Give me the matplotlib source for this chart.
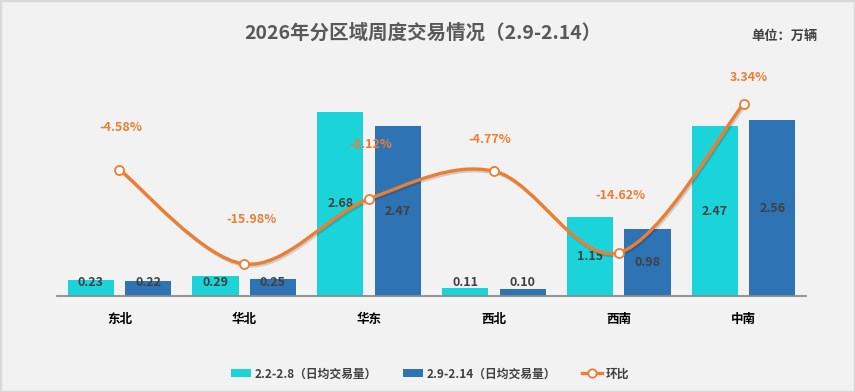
import numpy as np
import matplotlib
matplotlib.use("Agg")
import matplotlib.pyplot as plt
from matplotlib.path import Path
from matplotlib.patches import PathPatch, Rectangle, Patch
from matplotlib.lines import Line2D
import matplotlib.patheffects as pe

plt.rcParams['font.family'] = ['Noto Sans CJK SC', 'DejaVu Sans']

# ---------------- data ----------------
categories = ["东北", "华北", "华东", "西北", "西南", "中南"]
prev_week = [0.23, 0.29, 2.68, 0.11, 1.15, 2.47]     # 2.2-2.8 日均交易量
this_week = [0.22, 0.25, 2.47, 0.10, 0.98, 2.56]     # 2.9-2.14 日均交易量
mom_pct = [-4.58, -15.98, -8.12, -4.77, -14.62, 3.34]  # 环比 (%)
series_names = ["2.2-2.8（日均交易量）", "2.9-2.14（日均交易量）", "环比"]
title = "2026年分区域周度交易情况（2.9-2.14）"
unit = "单位：万辆"

# label offsets for percentage labels (points: dx, dy)
pct_offsets = [(1, 30), (5, 32), (1, 39), (-3, 23), (1, 41), (4, 19)]

# ---------------- style ----------------
C_PREV = "#1AD4D9"
C_THIS = "#2E73B4"
C_LINE = "#ED7D31"
C_TXT = "#404040"
BG = "#F2F2F2"

W, H = 855, 392
fig = plt.figure(figsize=(W / 100, H / 100), dpi=100, facecolor=BG)
fig.patches.append(Rectangle((0, 0), 1, 1, transform=fig.transFigure,
                             fill=False, edgecolor="#D9D9D9", lw=2.5))

ax_l, ax_r, ax_b, ax_t = 57, 806, 296, 60
ax = fig.add_axes([ax_l / W, 1 - ax_b / H, (ax_r - ax_l) / W, (ax_b - ax_t) / H])
ax.set_facecolor("none")

x = np.arange(len(categories))
bw = 0.37
off = 0.23
b1 = ax.bar(x - off, prev_week, bw, color=C_PREV, zorder=2)
b2 = ax.bar(x + off, this_week, bw, color=C_THIS, zorder=2)

ax.set_xlim(-0.5, len(categories) - 0.5)
px_per_unit = 68.75
ax.set_ylim(0, (ax_b - ax_t) / px_per_unit)

min_lab = 13 / px_per_unit
for xs, vals in ((x - off, prev_week), (x + off, this_week)):
    for xi, v in zip(xs, vals):
        ax.text(xi, max(v / 2, min_lab), f"{v:.2f}", ha="center", va="center",
                fontsize=9, fontweight="bold", color=C_TXT, zorder=3)

for s in ["top", "right", "left"]:
    ax.spines[s].set_visible(False)
ax.spines["bottom"].set_color("#8C8C8C")
ax.spines["bottom"].set_linewidth(1.3)
ax.spines["bottom"].set_zorder(4)
ax.set_yticks([])
ax.set_xticks(x)
ax.set_xticklabels(categories, fontsize=9, fontweight="bold", color="black")
ax.tick_params(axis="x", length=0, pad=12)

# secondary axis for 环比
ax2 = ax.twinx()
ax2.set_facecolor("none")
for s in ax2.spines.values():
    s.set_visible(False)
ax2.set_yticks([])
px_per_pct = 8.28
lo = 3.34 - (296 - 104) / px_per_pct
ax2.set_ylim(lo, lo + (ax_b - ax_t) / px_per_pct)

# smooth curve (cardinal / Catmull-Rom via cubic Bezier)
P = np.column_stack([x.astype(float), np.array(mom_pct, float)])
verts = [tuple(P[0])]
codes = [Path.MOVETO]
n = len(P)
for i in range(n - 1):
    p0 = P[i - 1] if i > 0 else P[i]
    p1 = P[i]
    p2 = P[i + 1]
    p3 = P[i + 2] if i + 2 < n else P[i + 1]
    c1 = p1 + (p2 - p0) / 6
    c2 = p2 - (p3 - p1) / 6
    verts += [tuple(c1), tuple(c2), tuple(p2)]
    codes += [Path.CURVE4] * 3
path = Path(verts, codes)
curve = PathPatch(path, fill=False, facecolor="none", edgecolor=C_LINE, lw=2.4, zorder=5,
                  capstyle="round",
                  path_effects=[pe.SimpleLineShadow(offset=(1.0, -1.3), shadow_color="#000000", alpha=0.15),
                                pe.Normal()])
ax2.add_patch(curve)
ax2.plot(x, mom_pct, linestyle="none", marker="o", ms=6.5, mfc="white",
         mec=C_LINE, mew=1.3, zorder=6)

for xi, v, (dx, dy) in zip(x, mom_pct, pct_offsets):
    ax2.annotate(f"{v:.2f}%", (xi, v), xytext=(dx, dy), textcoords="offset points",
                 ha="center", va="center", fontsize=9, fontweight="bold",
                 color=C_LINE, zorder=7)

# titles
fig.text(423 / W, 1 - 33 / H, title, ha="center", va="center", fontsize=14,
         fontweight="bold", color="#595959")
fig.text(784 / W, 1 - 36 / H, unit, ha="center", va="center", fontsize=9.5,
         fontweight="bold", color=C_TXT)

# legend
handles = [Patch(facecolor=C_PREV, edgecolor="none"),
           Patch(facecolor=C_THIS, edgecolor="none"),
           Line2D([0], [0], color=C_LINE, lw=2.4, marker="o", ms=6, mfc="white",
                  mec=C_LINE, mew=1.3)]
leg = fig.legend(handles, series_names, loc="center", ncol=3,
                 bbox_to_anchor=(430 / W, 1 - 374 / H), frameon=False,
                 prop={"size": 8.5, "weight": "bold"}, handlelength=1.7,
                 handleheight=0.65, handletextpad=0.3, columnspacing=2.2)
for t in leg.get_texts():
    t.set_color(C_TXT)

fig.savefig("out.png", dpi=100, facecolor=BG)
